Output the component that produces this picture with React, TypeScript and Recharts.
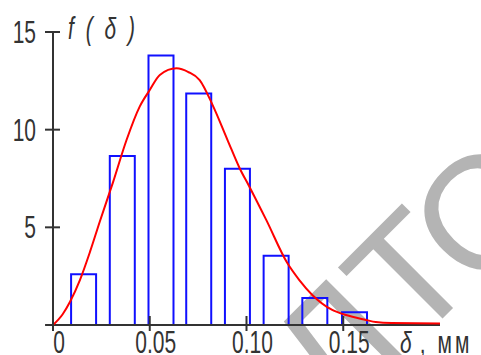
import React from 'react';
import { ComposedChart, Bar, Line, XAxis, YAxis, ReferenceLine } from 'recharts';

// Histogram bins (centres, mm) and observed frequency density
const binCenters = [0.016, 0.036, 0.056, 0.0755, 0.0955, 0.1155, 0.1355, 0.156];
const binFreq = [2.6, 8.65, 13.8, 11.85, 8.0, 3.55, 1.38, 0.65];

// Fitted density curve f(δ)
const curveX = [0, 0.005, 0.0088, 0.0139, 0.0191, 0.0242, 0.031, 0.038, 0.0448, 0.05, 0.0552, 0.0638, 0.07, 0.0758, 0.0825, 0.0902, 0.0964, 0.1015, 0.1102, 0.1211, 0.1273, 0.134, 0.1443, 0.1514, 0.1617, 0.1668, 0.175, 0.2];
const curveY = [0, 0.55, 1.19, 2.3, 3.74, 5.3, 7.3, 9.47, 11.18, 12.03, 12.8, 13.14, 12.95, 12.54, 11.26, 9.47, 8.04, 7.08, 5.38, 3.17, 2.3, 1.54, 0.77, 0.51, 0.26, 0.15, 0.1, 0.08];

// Axis ticks
const xTicks = [0, 0.05, 0.1, 0.15];
const xTickLabels = ['0', '0.05', '0.10', '0.15'];
const yTicks = [5, 10, 15];
const yTickLabels = ['5', '10', '15'];

const binData = binCenters.map((x, i) => ({ x, f: binFreq[i] }));
const curveData = curveX.map((x, i) => ({ x, f: curveY[i] }));

const AXIS = '#333';
const FONT = '"Liberation Sans", Arial, sans-serif';
const SY = 1.45;

const XTick = (props: any) => {
  const { x, y, payload } = props;
  const i = xTicks.indexOf(payload.value);
  return (
    <g>
      <line x1={x} x2={x} y1={y - 9} y2={y + 6} stroke={AXIS} strokeWidth={2} />
      <text
        transform={`translate(${x + 6},${y + 28}) scale(1,${SY})`}
        textAnchor="middle"
        fontSize={21}
        fontFamily={FONT}
        fill={AXIS}
      >
        {xTickLabels[i] ?? String(payload.value)}
      </text>
    </g>
  );
};

const YTick = (props: any) => {
  const { x, y, payload } = props;
  const i = yTicks.indexOf(payload.value);
  return (
    <g>
      <line x1={x - 8} x2={x + 7} y1={y} y2={y} stroke={AXIS} strokeWidth={2} />
      <text
        transform={`translate(${x - 17},${y + 11}) scale(1,${SY})`}
        textAnchor="end"
        fontSize={21}
        fontFamily={FONT}
        fill={AXIS}
      >
        {yTickLabels[i] ?? String(payload.value)}
      </text>
    </g>
  );
};

const OpenBar = (props: any) => {
  const { x, y, width, height } = props;
  if (height == null || height <= 0) return null;
  const d = `M${x},${y + height} L${x},${y} L${x + width},${y} L${x + width},${y + height}`;
  return <path d={d} fill="none" stroke="#1010ff" strokeWidth={2} />;
};

export default function App() {
  return (
    <div style={{ position: 'absolute', left: 0, top: 0, width: 481, height: 355, overflow: 'hidden', background: '#fff' }}>
      <svg width={481} height={355} style={{ position: 'absolute', left: 0, top: 0 }}>
        <text
          transform="translate(339,422) rotate(-45)"
          fontSize={160}
          fontFamily={FONT}
          fill="#b4b4b4"
        >
          ЛТ<tspan dx={-8} dy={8}>О</tspan>
        </text>
      </svg>
      <div style={{ position: 'absolute', left: 0, top: 0 }}>
        <ComposedChart
          width={481}
          height={355}
          data={binData}
          margin={{ top: 32, right: 41, bottom: 29, left: 52 }}
        >
          <XAxis
            xAxisId="main"
            dataKey="x"
            type="number"
            domain={[0, 0.2]}
            ticks={xTicks}
            interval={0}
            height={1}
            axisLine={false}
            tickLine={false}
            tickSize={0}
            tickMargin={0}
            tick={<XTick />}
          />
          <XAxis xAxisId="bin" dataKey="x" type="number" domain={[0, 0.2]} height={0} hide />
          <YAxis
            type="number"
            domain={[0, 15]}
            ticks={yTicks}
            interval={0}
            width={1}
            axisLine={false}
            tickLine={false}
            tickSize={0}
            tickMargin={0}
            tick={<YTick />}
          />
          <Bar xAxisId="bin" dataKey="f" barSize={25} shape={<OpenBar />} isAnimationActive={false} />
          <ReferenceLine
            xAxisId="main"
            segment={[{ x: -0.0041, y: 0 }, { x: 0.2, y: 0 }]}
            ifOverflow="visible"
            stroke={AXIS}
            strokeWidth={2}
          />
          <ReferenceLine
            xAxisId="main"
            segment={[{ x: 0, y: -0.27 }, { x: 0, y: 15 }]}
            ifOverflow="visible"
            stroke={AXIS}
            strokeWidth={2}
          />
          <Line
            xAxisId="main"
            data={curveData}
            dataKey="f"
            type="monotone"
            stroke="#ff0000"
            strokeWidth={2}
            dot={false}
            isAnimationActive={false}
          />
        </ComposedChart>
      </div>
      <svg width={481} height={355} style={{ position: 'absolute', left: 0, top: 0, pointerEvents: 'none' }}>
        <text fontSize={21} fontStyle="italic" fontFamily={FONT} fill={AXIS} letterSpacing={3}
          transform={`translate(68,39) scale(1,${SY})`}>
          {'f ( δ )'}
        </text>
        <text fontSize={21} fontFamily={FONT} fill={AXIS} transform={`translate(400,353) scale(1,${SY})`}>
          <tspan fontStyle="italic">δ</tspan>
          <tspan dx={8}>,</tspan>
          <tspan dx={12} letterSpacing={3}>мм</tspan>
        </text>
      </svg>
    </div>
  );
}
